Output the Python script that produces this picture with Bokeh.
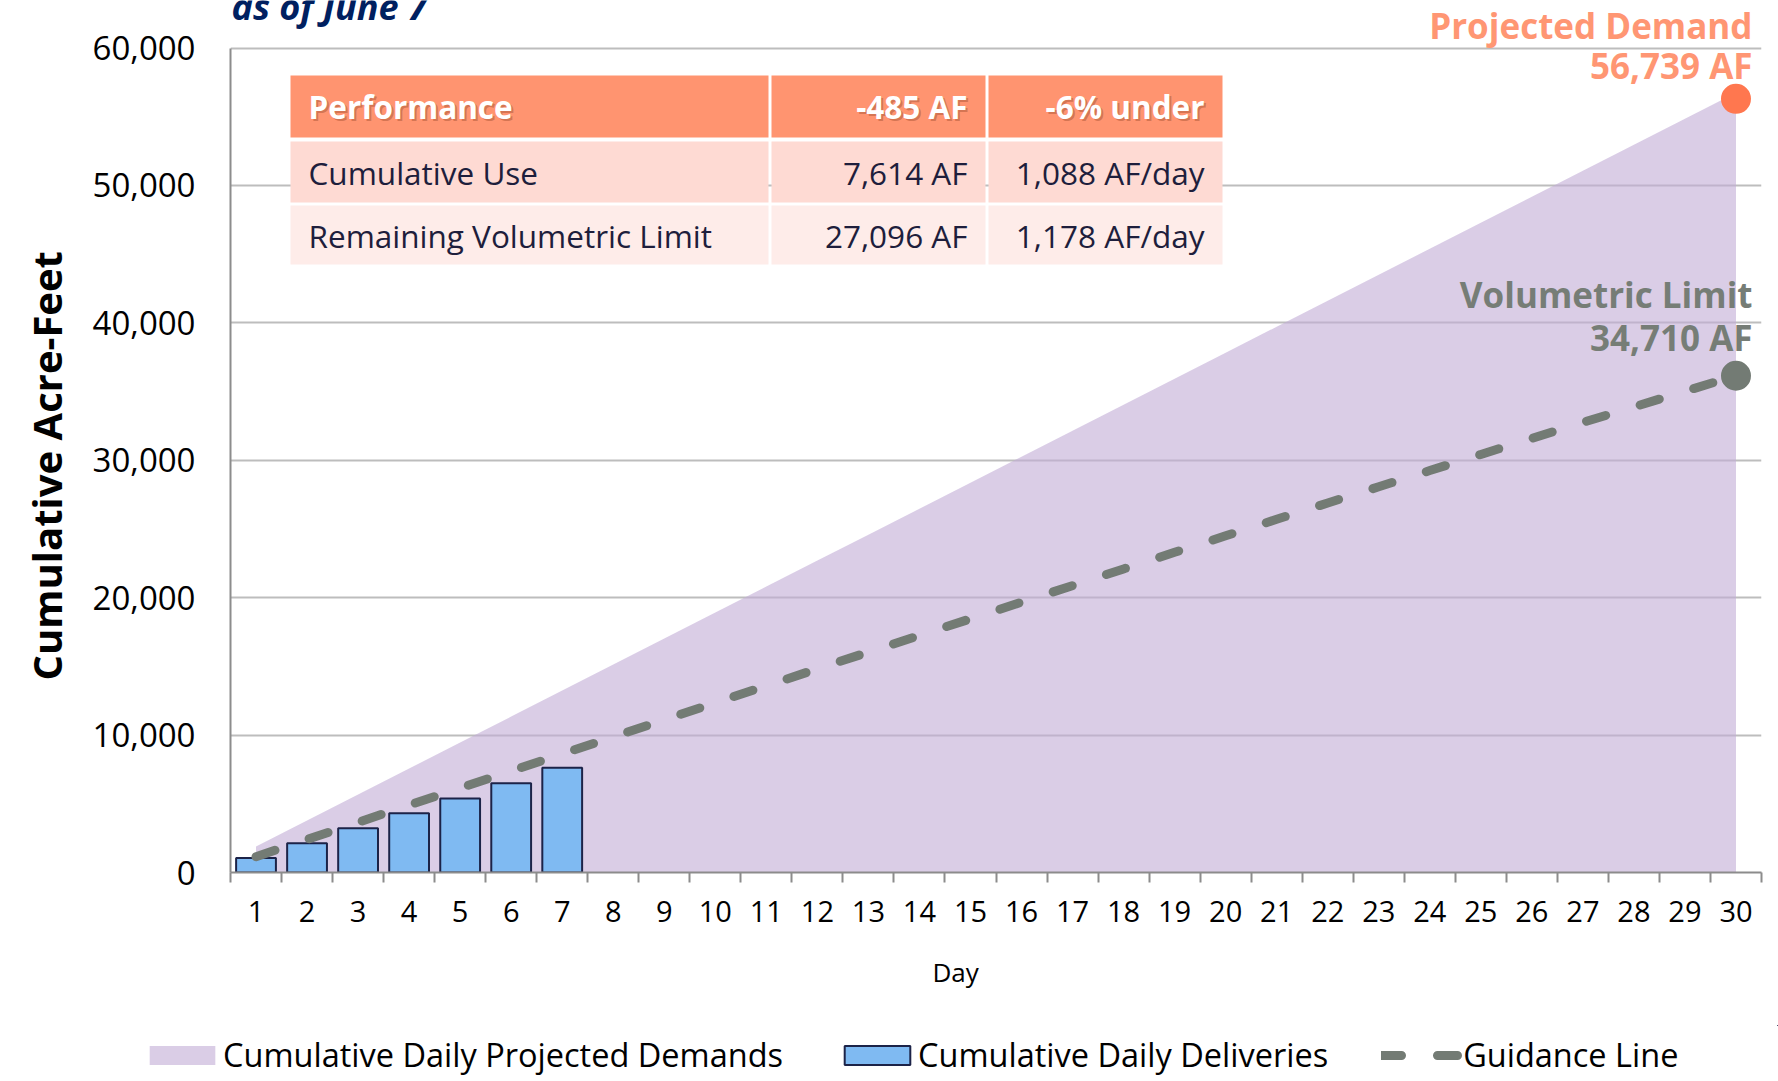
from bokeh.plotting import figure
from bokeh.models import (Range1d, FixedTicker, NumeralTickFormatter, Title,
                          Legend, LegendItem)
from bokeh.core.properties import value
from bokeh.embed import file_html
from bokeh.resources import INLINE

# ---------------- data ----------------
days = list(range(1, 31))
projected_demand = [1891, 3783, 5674, 7565, 9457, 11348, 13239, 15130, 17022, 18913,
                    20804, 22696, 24587, 26478, 28370, 30261, 32152, 34043, 35935, 37826,
                    39717, 41609, 43500, 45391, 47283, 49174, 51065, 52956, 54848, 56739]
guidance = [1150, 2400, 3650, 4900, 6150, 7390, 8630, 9870, 11110, 12350,
            13590, 14820, 16040, 17250, 18460, 19670, 20880, 22090, 23300, 24500,
            25700, 26890, 28070, 29250, 30420, 31590, 32760, 33880, 35020, 36150]
delivery_days = [1, 2, 3, 4, 5, 6, 7]
deliveries = [1060, 2130, 3220, 4310, 5390, 6500, 7614]
end_day = [30]
projected_end = [56300]
guidance_end = [36150]
y_ticks = [0, 10000, 20000, 30000, 40000, 50000, 60000]
x_ticks = days
x_bounds = [d - 0.5 for d in days] + [30.5]

title_text = "as of June 7"
proj_label = ["Projected Demand", "56,739 AF"]
vol_label = ["Volumetric Limit", "34,710 AF"]
table_c1 = ["Performance", "Cumulative Use", "Remaining Volumetric Limit"]
table_c2 = ["-485 AF", "7,614 AF", "27,096 AF"]
table_c3 = ["-6% under", "1,088 AF/day", "1,178 AF/day"]
series_names = ["Cumulative Daily Projected Demands", "Cumulative Daily Deliveries", "Guidance Line"]
y_title = "Cumulative Acre-Feet"
x_title = "Day"

# ---------------- styles ----------------
FONT = "Open Sans"
AREA = dict(fill_color="#C1ACD5", fill_alpha=0.6)
BARS = dict(fill_color="#7FBAF2", line_color="#1C2348", line_width=2)
GLINE = dict(line_color="#737B74", line_width=9, line_dash="20 36", line_cap="round")

# ---------------- layout helpers (page pixels -> data units) ----------------
W, H1, H2 = 1778, 1025, 56
FL, FR = 230, 1761          # frame left / right (page px)
Y0, Y60 = 872.0, 47.5        # page px of 0 and 60,000
FW = FR - FL
FH = int(Y0)                 # frame spans from the top of the page to the x axis


def dx(px):
    return 0.5 + (px - FL) * 30.0 / FW


def dy(py):
    return (Y0 - py) * 60000.0 / (Y0 - Y60)


p = figure(width=W, height=H1, output_backend="svg", toolbar_location=None,
           x_range=Range1d(0.5, 30.5), y_range=Range1d(0, dy(0)),
           min_border_left=FL, min_border_top=0,
           min_border_right=W - FR, min_border_bottom=H1 - FH)
p.outline_line_color = None
p.background_fill_color = "white"
p.border_fill_color = "white"

# grid
p.xgrid.visible = False
p.ygrid.ticker = FixedTicker(ticks=y_ticks)
p.ygrid.grid_line_color = "#BDBDBD"
p.ygrid.grid_line_width = 2

# axes
xa = p.xaxis[0]
xa.ticker = FixedTicker(ticks=x_ticks, minor_ticks=x_bounds)
xa.major_tick_out = 0
xa.major_tick_in = 0
xa.minor_tick_out = 10
xa.minor_tick_in = 0
xa.minor_tick_line_color = "#8C8C8C"
xa.minor_tick_line_width = 2
xa.axis_line_color = "#8C8C8C"
xa.axis_line_width = 2
xa.major_label_text_font = FONT
xa.major_label_text_font_size = "29px"
xa.major_label_text_color = "black"
xa.major_label_standoff = 18

ya = p.yaxis[0]
ya.ticker = FixedTicker(ticks=y_ticks)
ya.bounds = (0, 60000)
ya.formatter = NumeralTickFormatter(format="0,0")
ya.major_tick_out = 0
ya.major_tick_in = 0
ya.minor_tick_out = 0
ya.minor_tick_in = 0
ya.axis_line_color = "#8C8C8C"
ya.axis_line_width = 2
ya.major_label_text_font = FONT
ya.major_label_text_font_size = "33px"
ya.major_label_text_color = "black"
ya.major_label_standoff = 35

# y axis title (left side panel, placed like the original)
ytitle = Title(text=y_title, align="left", offset=192, vertical_align="bottom",
               standoff=32, text_font=FONT, text_font_size="40px",
               text_font_style="bold", text_color="black")
p.add_layout(ytitle, "left")

# x axis title, off-centre as in the original
day_title = Title(text=x_title, align="left", offset=702, standoff=55,
                  text_font=FONT, text_font_size="26px", text_font_style="normal",
                  text_color="black")
p.add_layout(day_title, "below")

# series
area = p.varea(x=days, y1=[0] * len(days), y2=projected_demand, **AREA)
bars = p.vbar(x=delivery_days, top=deliveries, width=0.78, **BARS)
gline = p.line(x=days, y=guidance, **GLINE)
p.scatter(x=end_day, y=projected_end, size=30, fill_color="#FF774F", line_color=None)
p.scatter(x=end_day, y=guidance_end, size=30, fill_color="#737B74", line_color=None)

# table
col_edges = [(290, 768), (771, 985), (988, 1222)]
row_edges = [(75, 137), (141, 202), (205, 264)]
row_colors = ["#FF9470", "#FEDAD3", "#FEECE9"]
ql, qr, qt, qb, qc = [], [], [], [], []
for (t, b), c in zip(row_edges, row_colors):
    for (l, r) in col_edges:
        ql.append(dx(l)); qr.append(dx(r)); qt.append(dy(t)); qb.append(dy(b)); qc.append(c)
p.quad(left=ql, right=qr, top=qt, bottom=qb, fill_color=qc, line_color=None)

row_mid = [106, 171.5, 234.5]
c1x, c2x, c3x = 308, 967, 1204
TS = "31.5px"
for sh, col, alpha in [(2, "#A04E2E", 0.45), (0, "white", 1.0)]:
    p.text(x=[dx(c1x + sh)], y=[dy(row_mid[0] + sh)], text=[table_c1[0]],
           text_font=value(FONT), text_font_size=TS, text_font_style="bold",
           text_color=col, text_alpha=alpha, text_baseline="middle", text_align="left")
    p.text(x=[dx(c2x + sh), dx(c3x + sh)], y=[dy(row_mid[0] + sh)] * 2,
           text=[table_c2[0], table_c3[0]],
           text_font=value(FONT), text_font_size=TS, text_font_style="bold",
           text_color=col, text_alpha=alpha, text_baseline="middle", text_align="right")
p.text(x=[dx(c1x)] * 2, y=[dy(v) for v in row_mid[1:]], text=table_c1[1:],
       text_font=value(FONT), text_font_size=TS, text_color="#1E1E3C",
       text_baseline="middle", text_align="left")
p.text(x=[dx(c2x)] * 2 + [dx(c3x)] * 2, y=[dy(v) for v in row_mid[1:]] * 2,
       text=table_c2[1:] + table_c3[1:],
       text_font=value(FONT), text_font_size=TS, text_color="#1E1E3C",
       text_baseline="middle", text_align="right")

# annotation texts (inside the frame, which reaches the top of the page)
p.text(x=[dx(1752)] * 2, y=[dy(25), dy(65)], text=proj_label,
       text_font=value(FONT), text_font_size="35px", text_font_style="bold",
       text_color="#FF9673", text_align="right", text_baseline="middle")
p.text(x=[dx(1752)] * 2, y=[dy(294), dy(337)], text=vol_label,
       text_font=value(FONT), text_font_size="35px", text_font_style="bold",
       text_color="#767D76", text_align="right", text_baseline="middle")
p.text(x=[dx(231)], y=[dy(6)], text=[title_text],
       text_font=value(FONT), text_font_size="36px", text_font_style="bold italic",
       text_color="#002060", text_align="left", text_baseline="middle")

# ---------------- legend strip below the chart ----------------
# the legend's renderers carry the same series, but this strip's ranges keep them out of view
p2 = figure(width=W, height=H2, output_backend="svg", toolbar_location=None,
            x_range=Range1d(-10, -9), y_range=Range1d(-10, -9),
            x_axis_location=None, y_axis_location=None,
            min_border_left=0, min_border_right=0, min_border_top=0, min_border_bottom=0)
p2.outline_line_color = None
p2.grid.visible = False
p2.background_fill_color = "white"
p2.border_fill_color = "white"
l_area = p2.varea(x=days, y1=[0] * len(days), y2=projected_demand, **AREA)
l_bars = p2.vbar(x=delivery_days, top=deliveries, width=0.78, **BARS)
l_line = p2.line(x=days, y=guidance, **GLINE)

legend = Legend(items=[LegendItem(label=series_names[0], renderers=[l_area]),
                       LegendItem(label=series_names[1], renderers=[l_bars]),
                       LegendItem(label=series_names[2], renderers=[l_line])],
                location=(141, 4), orientation="horizontal")
legend.label_text_font = FONT
legend.label_text_font_size = "32.5px"
legend.label_text_color = "black"
legend.glyph_width = 82
legend.glyph_height = 24
legend.label_standoff = 0
legend.spacing = 53
legend.padding = 0
legend.margin = 0
legend.border_line_color = None
legend.background_fill_alpha = 0
p2.add_layout(legend)

open("out.html", "w").write(file_html([p, p2], INLINE))
